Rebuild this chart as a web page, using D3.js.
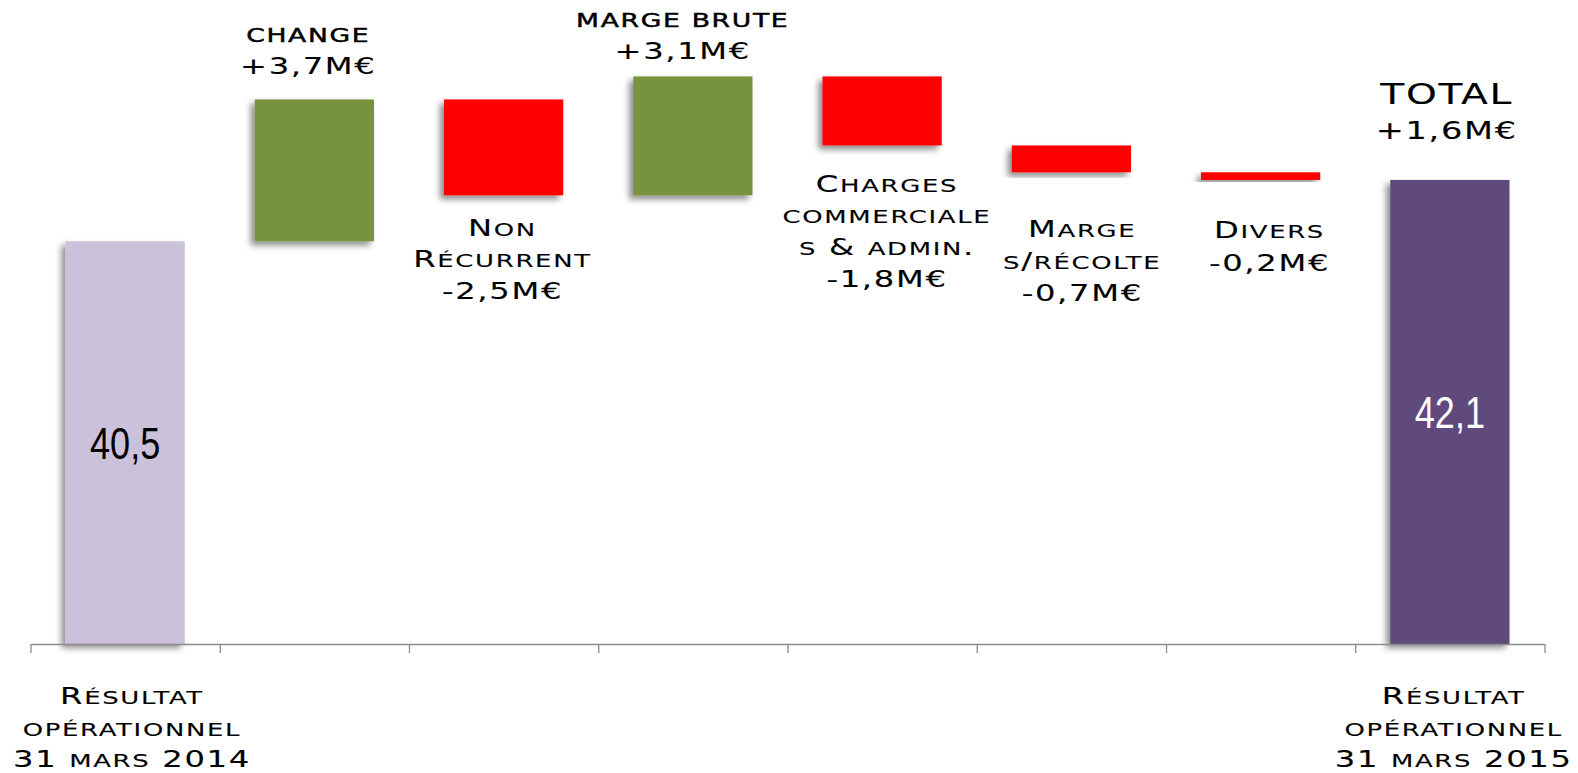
<!DOCTYPE html>
<html>
<head>
<meta charset="utf-8">
<script src="https://cdn.jsdelivr.net/npm/d3@7"></script>
<style>
  html, body { margin: 0; padding: 0; background: #fff; }
  svg { display: block; }
</style>
</head>
<body>
<svg id="chart" width="1578" height="773"></svg>
<script>
// ---------------- DATA ----------------
const categories = [
  "Résultat opérationnel 31 mars 2014",
  "Change",
  "Non Récurrent",
  "Marge brute",
  "Charges commerciales & admin.",
  "Marge s/récolte",
  "Divers",
  "Résultat opérationnel 31 mars 2015"
];
const values = [40.5, 3.7, -2.5, 3.1, -1.8, -0.7, -0.2, 42.1];
const kinds = ["start", "delta", "delta", "delta", "delta", "delta", "delta", "end"];
const barValueLabels = ["40,5", "", "", "", "", "", "", "42,1"];
const annotationLines = [
  [],
  ["change", "+3,7M€"],
  ["Non", "Récurrent", "-2,5M€"],
  ["marge brute", "+3,1M€"],
  ["Charges", "commerciale", "s & admin.", "-1,8M€"],
  ["Marge", "s/récolte", "-0,7M€"],
  ["Divers", "-0,2M€"],
  ["TOTAL", "+1,6M€"]
];
const axisLabelLines = [
  ["Résultat", "opérationnel", "31 mars 2014"],
  [], [], [], [], [], [],
  ["Résultat", "opérationnel", "31 mars 2015"]
];
const yDomain = [30, 46];

// ---------------- LAYOUT / STYLE ----------------
const W = 1578, H = 773;
const baseY = 644, topY = 30.4;
const axisLeft = 30.5, axisRight = 1544.5;
const colors = { start: "#CBC1DB", end: "#604A7B", pos: "#77933C", neg: "#FF0000" };
const BIG = 23, SMALL = 18.5;
const annotLayout = [
  null,
  { dx: -7, ys: [42, 74], sizes: [[19, 19], [23, 23]], bold: [true, false] },
  { dx: -2, ys: [236, 267, 299], sizes: [[BIG, SMALL], [BIG, SMALL], [BIG, BIG]] },
  { dx: -11, ys: [27, 59], sizes: [[19, 19], [23, 23]], bold: [true, false] },
  { dx: 4, ys: [192, 223, 255, 287], sizes: [[BIG, SMALL], [BIG, SMALL], [BIG, SMALL], [BIG, BIG]] },
  { dx: 10, ys: [237, 269, 301], sizes: [[BIG, SMALL], [BIG, SMALL], [BIG, BIG]] },
  { dx: 8, ys: [238, 271], sizes: [[BIG, SMALL], [BIG, BIG]] },
  { dx: -4, ys: [104, 139], sizes: [[28, 28], [24, 24]] }
];
const axisLabelLayout = [
  { dx: 6, ys: [704, 736, 767] }, null, null, null, null, null, null,
  { dx: 3, ys: [704, 736, 767] }
];

const svg = d3.select("#chart");
const defs = svg.append("defs");
const f = defs.append("filter").attr("id", "shadow")
  .attr("x", "-20%").attr("y", "-20%").attr("width", "140%").attr("height", "140%");
f.append("feDropShadow").attr("dx", -4).attr("dy", 4).attr("stdDeviation", 3)
  .attr("flood-color", "#000").attr("flood-opacity", 0.45);

const x = d3.scaleBand().domain(d3.range(categories.length))
  .range([axisLeft, axisRight]).paddingInner(0.37).paddingOuter(0.185);
const xb = d3.scaleLinear().domain([0, categories.length]).range([axisLeft, axisRight]);
const y = d3.scaleLinear().domain(yDomain).range([baseY, topY]);

// waterfall geometry
let running = 0;
const bars = values.map((v, i) => {
  let lo, hi, color;
  if (kinds[i] === "start" || kinds[i] === "end") {
    lo = yDomain[0]; hi = v; running = v;
    color = colors[kinds[i]];
  } else {
    const s = running, e = running + v;
    lo = Math.min(s, e); hi = Math.max(s, e); running = e;
    color = v >= 0 ? colors.pos : colors.neg;
  }
  return { i, lo, hi, color };
});

svg.append("g").selectAll("rect").data(bars).join("rect")
  .attr("x", d => x(d.i))
  .attr("width", x.bandwidth())
  .attr("y", d => y(d.hi))
  .attr("height", d => y(d.lo) - y(d.hi))
  .attr("fill", d => d.color)
  .attr("filter", "url(#shadow)");

// axis
const axisG = svg.append("g").attr("transform", `translate(0,${baseY})`)
  .call(d3.axisBottom(xb).tickValues(d3.range(categories.length + 1))
    .tickFormat("").tickSizeInner(9).tickSizeOuter(0));
axisG.select(".domain").attr("stroke", "#8c8c8c").attr("stroke-width", 1.5);
axisG.selectAll(".tick line").attr("stroke", "#8c8c8c").attr("stroke-width", 1.3);

// bar value labels
svg.append("g").selectAll("g").data(bars.filter(d => barValueLabels[d.i]))
  .join("g")
  .attr("transform", d => `translate(${x(d.i) + x.bandwidth() / 2},${(y(d.lo) + y(d.hi)) / 2 + 16}) scale(0.82,1)`)
  .append("text")
  .attr("text-anchor", "middle")
  .attr("font-family", "'Liberation Sans', Arial, sans-serif")
  .attr("font-size", 44)
  .attr("fill", d => kinds[d.i] === "end" ? "#fff" : "#000")
  .text(d => barValueLabels[d.i]);

// small-caps text helper
const SX = 1.4, LS = 1.2;
function scLine(parent, str, cx, by, big, small, bold) {
  const g = parent.append("g").attr("transform", `translate(${cx + LS * SX / 2},${by}) scale(${SX},1)`);
  const t = g.append("text").attr("text-anchor", "middle")
    .attr("font-family", "'DejaVu Sans', sans-serif")
    .attr("fill", "#000")
    .attr("stroke", "#000")
    .attr("stroke-width", bold ? 0.45 : 0.12)
    .style("letter-spacing", LS + "px");
  const runs = [];
  for (const ch of str) {
    const sm = ch !== ch.toUpperCase();
    if (runs.length && runs[runs.length - 1].sm === sm) runs[runs.length - 1].s += ch;
    else runs.push({ sm, s: ch });
  }
  runs.forEach(r => t.append("tspan").attr("font-size", r.sm ? small : big).text(r.s.toUpperCase()));
}

const annG = svg.append("g");
annotationLines.forEach((lines, i) => {
  const L = annotLayout[i];
  if (!L) return;
  const cx = x(i) + x.bandwidth() / 2 + L.dx;
  lines.forEach((s, k) => scLine(annG, s, cx, L.ys[k], L.sizes[k][0], L.sizes[k][1], L.bold ? L.bold[k] : false));
});
axisLabelLines.forEach((lines, i) => {
  const L = axisLabelLayout[i];
  if (!L) return;
  const cx = x(i) + x.bandwidth() / 2 + L.dx;
  lines.forEach((s, k) => scLine(annG, s, cx, L.ys[k], BIG, SMALL, false));
});
</script>
</body>
</html>
